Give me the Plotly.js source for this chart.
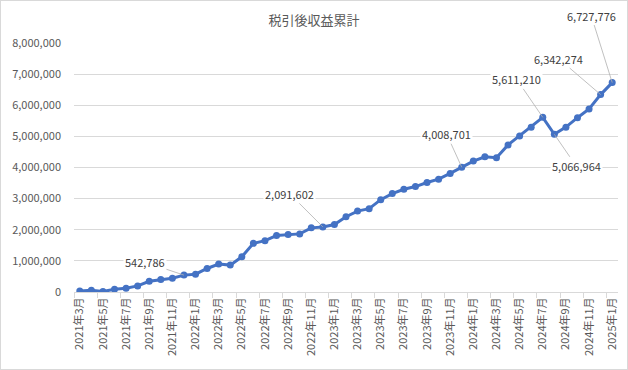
<!DOCTYPE html>
<html>
<head>
<meta charset="utf-8">
<script src="https://cdn.plot.ly/plotly-3.0.1.min.js"></script>
<style>
  html, body { margin: 0; padding: 0; background: #fff; }
  #chart { width: 628px; height: 370px; box-sizing: border-box; border: 1px solid #d9d9d9; }
</style>
</head>
<body>
<div id="chart"></div>
<script>
const categories = [
  "2021年3月","2021年4月","2021年5月","2021年6月","2021年7月","2021年8月","2021年9月","2021年10月","2021年11月","2021年12月",
  "2022年1月","2022年2月","2022年3月","2022年4月","2022年5月","2022年6月","2022年7月","2022年8月","2022年9月","2022年10月","2022年11月","2022年12月",
  "2023年1月","2023年2月","2023年3月","2023年4月","2023年5月","2023年6月","2023年7月","2023年8月","2023年9月","2023年10月","2023年11月","2023年12月",
  "2024年1月","2024年2月","2024年3月","2024年4月","2024年5月","2024年6月","2024年7月","2024年8月","2024年9月","2024年10月","2024年11月","2024年12月",
  "2025年1月"
];
const values = [
  30000, 55000, 15000, 87000, 120000, 195000, 345000, 400000, 443000, 542786,
  573000, 755000, 896000, 864000, 1130000, 1563000, 1650000, 1812000, 1845000, 1867000, 2061000, 2091602,
  2168000, 2417000, 2600000, 2676000, 2967000, 3162000, 3300000, 3388000, 3518000, 3625000, 3809000, 4008701,
  4207000, 4346000, 4314000, 4725000, 5016000, 5297000, 5611210, 5066964, 5297000, 5600000, 5880000, 6342274,
  6727776
];
const titleText = "税引後収益累計";
const labelledIdx = [9, 21, 33, 40, 41, 45, 46];
// label offsets (pixels) relative to the point
const labelAx = [-39, -33, -15, -26, 22, -42, -21];
const labelAy = [-13, -33, -33, -38, 32, -36, -67];

const FONT = '"Noto Sans CJK JP", "Noto Sans", sans-serif';

const annotations = labelledIdx.map((idx, k) => ({
  x: categories[idx], y: values[idx], xref: 'x', yref: 'y',
  text: values[idx].toLocaleString('en-US'),
  showarrow: true, arrowhead: 0, arrowwidth: 0.8, arrowcolor: '#b0b0b0',
  ax: labelAx[k], ay: labelAy[k], standoff: 0,
  bgcolor: '#ffffff', borderpad: 1,
  font: {family: FONT, size: 11, color: '#404040'}
}));

const trace = {
  x: categories, y: values, type: 'scatter', mode: 'lines+markers',
  line: {color: '#4472C4', width: 3},
  marker: {color: '#4472C4', size: 7},
  hoverinfo: 'skip'
};

const layout = {
  width: 626, height: 368,
  margin: {l: 73, r: 9, t: 42, b: 77},
  paper_bgcolor: '#ffffff', plot_bgcolor: '#ffffff',
  showlegend: false,
  font: {family: FONT, size: 11, color: '#595959'},
  title: {text: titleText, x: 0.5, xanchor: 'center', y: 0.948, yanchor: 'middle',
          font: {family: FONT, size: 13, color: '#595959'}},
  xaxis: {
    type: 'category', range: [-0.5, categories.length - 0.5],
    tickmode: 'linear', tick0: 0, dtick: 2, tickson: 'boundaries',
    ticks: 'outside', ticklen: 5, tickcolor: '#d9d9d9',
    showgrid: false, showline: true, linecolor: '#d9d9d9', linewidth: 1,
    tickangle: -90, tickfont: {family: FONT, size: 11, color: '#595959'},
    zeroline: false
  },
  yaxis: {
    range: [0, 8000000], tickmode: 'linear', tick0: 0, dtick: 1000000,
    tickformat: ',d', showgrid: true, gridcolor: '#d9d9d9', gridwidth: 1,
    zeroline: false, showline: false, ticks: '', ticklabelstandoff: 12,
    tickfont: {family: FONT, size: 11, color: '#595959'}
  },
  annotations: annotations
};

Plotly.newPlot('chart', [trace], layout, {displayModeBar: false, staticPlot: true});
</script>
</body>
</html>
